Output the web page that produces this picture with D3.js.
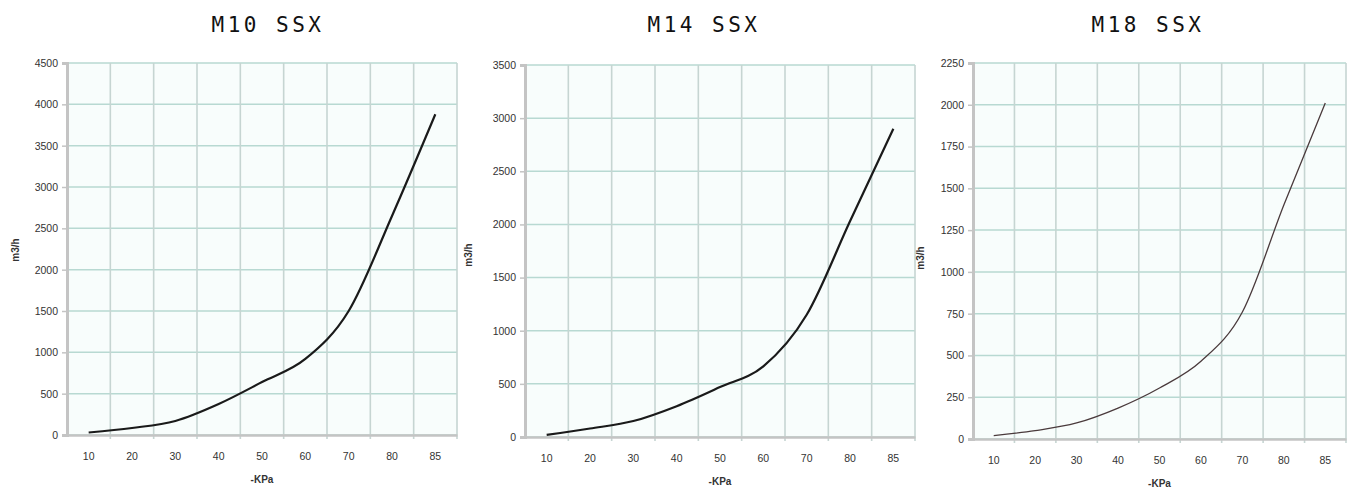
<!DOCTYPE html>
<html lang="en">
<head>
    <meta charset="UTF-8">
    <title>SSX</title>
    <script src="https://cdn.jsdelivr.net/npm/d3@7"></script>
    <style>
        body { margin: 0; background: #fff; }
        .tick text { font-family: "Liberation Sans", Arial, sans-serif; font-size: 10.5px; fill: #333; }
    </style>
</head>
<body>
<svg id="chart"></svg>

<script>
    // categories on x (-KPa)
    const kpa = ["10", "20", "30", "40", "50", "60", "70", "80", "85"];
    // flow values per model
    const m10 = [30, 85, 170, 375, 640, 920, 1500, 2650, 3880];
    const m14 = [20, 80, 150, 290, 470, 665, 1150, 2030, 2900];
    const m18 = [20, 50, 96, 185, 305, 465, 760, 1400, 2010];
    // y axis ticks
    const ticks10 = [0, 500, 1000, 1500, 2000, 2500, 3000, 3500, 4000, 4500];
    const ticks14 = [0, 500, 1000, 1500, 2000, 2500, 3000, 3500];
    const ticks18 = [0, 250, 500, 750, 1000, 1250, 1500, 1750, 2000, 2250];
    const titles = ["M10 SSX", "M14 SSX", "M18 SSX"];

    const svg = d3.select("#chart").attr("width", 1352).attr("height", 492);

    const panels = [
        {title: titles[0], values: m10, ticks: ticks10, left: 67, right: 457, top: 63, bottom: 435, tx: 268, ylx: 15, yly: 250, line: "#1a1a1a", lw: 2.2},
        {title: titles[1], values: m14, ticks: ticks14, left: 525, right: 915, top: 65, bottom: 437, tx: 704, ylx: 468, yly: 255, line: "#1a1a1a", lw: 2.2},
        {title: titles[2], values: m18, ticks: ticks18, left: 973, right: 1346, top: 63, bottom: 439, tx: 1148, ylx: 920, yly: 258, line: "#4a3a3c", lw: 1.3}
    ];

    panels.forEach(function (p) {
        const w = p.right - p.left, h = p.bottom - p.top;
        const g = svg.append("g").attr("transform", "translate(" + p.left + "," + p.top + ")");

        const x = d3.scaleBand().domain(kpa).range([0, w]);
        const y = d3.scaleLinear().domain([0, d3.max(p.ticks)]).range([h, 0]);

        // plot background
        g.append("rect").attr("width", w).attr("height", h).attr("fill", "#f8fdfc");

        // horizontal grid
        g.append("g").selectAll("line").data(p.ticks).enter().append("line")
            .attr("x1", 0).attr("x2", w)
            .attr("y1", d => y(d)).attr("y2", d => y(d))
            .attr("stroke", "#b8d9d2").attr("stroke-width", 1.5);

        // vertical grid at category boundaries (with small ticks below axis)
        const bounds = kpa.slice(1).map(d => x(d)).concat([w]);
        g.append("g").selectAll("line").data(bounds).enter().append("line")
            .attr("x1", d => d).attr("x2", d => d)
            .attr("y1", 0).attr("y2", h + 4)
            .attr("stroke", "#c6d5d2").attr("stroke-width", 1.6);

        // x axis
        g.append("g")
            .attr("transform", "translate(0," + h + ")")
            .call(d3.axisBottom(x).tickSize(0).tickPadding(18))
            .call(a => a.select(".domain").attr("stroke", "#c4c4c4").attr("stroke-width", 2.5));

        // y axis
        g.append("g")
            .call(d3.axisLeft(y).tickValues(p.ticks).tickSize(5).tickPadding(4).tickFormat(d3.format("d")))
            .call(a => a.select(".domain").attr("stroke", "#c4c4c4").attr("stroke-width", 3))
            .call(a => a.selectAll(".tick line").attr("stroke", "#c4c4c4").attr("stroke-width", 1.5));

        // data line
        const line = d3.line()
            .x((d, i) => x(kpa[i]) + x.bandwidth() / 2)
            .y(d => y(d))
            .curve(d3.curveMonotoneX);
        g.append("path").datum(p.values)
            .attr("fill", "none").attr("stroke", p.line).attr("stroke-width", p.lw)
            .attr("d", line);

        // title
        svg.append("text")
            .attr("x", p.tx).attr("y", 32)
            .attr("text-anchor", "middle")
            .attr("font-family", "DejaVu Sans Mono, monospace")
            .attr("font-size", 21).attr("letter-spacing", 3.5)
            .attr("fill", "#111")
            .text(p.title);

        // axis titles
        svg.append("text")
            .attr("x", p.left + w / 2).attr("y", p.bottom + 48)
            .attr("text-anchor", "middle")
            .attr("font-family", "Liberation Sans, Arial, sans-serif")
            .attr("font-size", 10).attr("font-weight", "bold").attr("fill", "#333")
            .text("-KPa");

        svg.append("text")
            .attr("transform", "translate(" + p.ylx + "," + p.yly + ") rotate(-90)")
            .attr("text-anchor", "middle").attr("dy", "0.35em")
            .attr("font-family", "Liberation Sans, Arial, sans-serif")
            .attr("font-size", 10).attr("font-weight", "bold").attr("fill", "#333")
            .text("m3/h");
    });
</script>
</body>
</html>
